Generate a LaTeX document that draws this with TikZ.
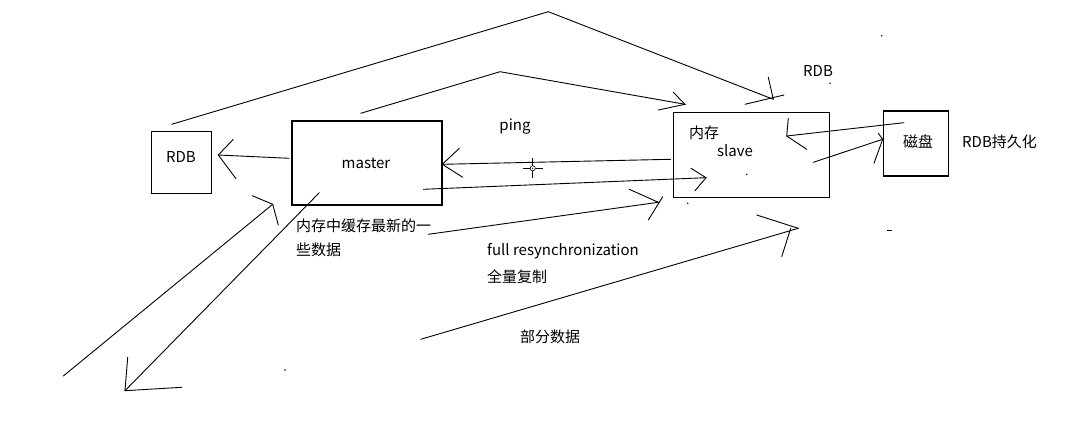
\documentclass[tikz,border=0pt]{standalone}
\usepackage{fontspec}
\setmainfont{Noto Sans CJK SC}
\usepackage{tikz}
\usetikzlibrary{positioning}

\tikzset{
  box/.style={draw, line width=1.1pt, inner sep=0pt},
  sketch/.style={line width=0.9pt, line cap=round},
  txt/.style={inner sep=0pt, font=\fontsize{15}{18}\selectfont},
}

\begin{document}
\begin{tikzpicture}[x=1pt, y=-1pt]
\useasboundingbox[fill=white] (0,0) rectangle (1079,442);

%%%%% Boxes %%%%%
\node[box, minimum width=60, minimum height=62] (rdbbox) at (181.5,162.5) {};
\node[box, minimum width=150, minimum height=84] (master) at (367,163) {};
\node[box, minimum width=156, minimum height=85] (slave) at (751.5,155) {};
\node[box, minimum width=65, minimum height=65] (disk) at (916,143.5) {};

%%%%% Texts %%%%%
\node[txt] (rdbtxt) at (181,157) {RDB};
\node[txt] (mastertxt) at (366,163) {master};
\node[txt, anchor=base] (ping) at (515,130) {ping};
\node[txt] (mem) at (704,133) {内存};
\node[txt, anchor=base] (slavetxt) at (735,156) {slave};
\node[txt] (disktxt) at (918,142) {磁盘};
\node[txt] (rdbtop) at (818,71) {RDB};
\node[txt, anchor=west] (persist) at (962,142) {RDB持久化};
\node[txt, anchor=west] (cache1) at (296,226) {内存中缓存最新的一};
\node[txt, anchor=west] (cache2) at (296,250) {些数据};
\node[txt, anchor=west] (fullsync) at (487,251) {full resynchronization};
\node[txt, anchor=west] (fullcopy) at (487,277) {全量复制};
\node[txt] (partial) at (550,337) {部分数据};

%%%%% Sketch points %%%%%
\coordinate (big-a) at (171.7,124.3);
\coordinate (big-top) at (548.3,11.7);
\coordinate (big-tip) at (773.3,99.3);
\coordinate (small-a) at (360.7,113.3);
\coordinate (small-top) at (500,71.7);
\coordinate (small-tip) at (685,104.3);
\coordinate (m2r-a) at (289,158.3);
\coordinate (m2r-tip) at (218.3,155);
\coordinate (ping-a) at (670.7,159.3);
\coordinate (ping-tip) at (442.3,164.3);
\coordinate (m2s-a) at (423.3,189.3);
\coordinate (m2s-tip) at (706,177.7);
\coordinate (full-a) at (428.3,234.3);
\coordinate (full-tip) at (658.3,202.3);
\coordinate (part-a) at (420.7,339.3);
\coordinate (part-tip) at (798.3,228.3);
\coordinate (s2d-a) at (813.3,162.3);
\coordinate (s2d-tip) at (882.7,139.3);
\coordinate (d2s-a) at (904,122.7);
\coordinate (d2s-tip) at (786.7,136);
\coordinate (up-a) at (63.3,376);
\coordinate (up-tip) at (272.7,204.3);
\coordinate (down-a) at (319.3,192.7);
\coordinate (down-tip) at (125,390.7);

%%%%% Connectors %%%%%
\draw[sketch] (big-a) -- (big-top) -- (big-tip);
\draw[sketch] (768.3,77.3) -- (big-tip) (745,104.3) -- (784,95);
\draw[sketch] (small-a) -- (small-top) -- (small-tip);
\draw[sketch] (673.3,92.3) -- (small-tip) -- (658.3,110);
\draw[sketch] (m2r-a) -- (m2r-tip);
\draw[sketch] (233.3,139.3) -- (m2r-tip) -- (236,178.7);
\draw[sketch] (ping-a) -- (ping-tip);
\draw[sketch] (459.3,148.3) -- (ping-tip) -- (462.7,177.3);
\draw[sketch] (m2s-a) -- (m2s-tip);
\draw[sketch] (691,168.3) -- (m2s-tip) -- (695,190.7);
\draw[sketch] (full-a) -- (full-tip);
\draw[sketch] (629.3,189.3) -- (full-tip) (662.7,196.7) -- (648.3,220);
\draw[sketch] (part-a) -- (part-tip);
\draw[sketch] (756.7,215) -- (part-tip) (790.7,228.3) -- (781.7,256.7);
\draw[sketch] (s2d-a) -- (s2d-tip);
\draw[sketch] (878.3,133.3) -- (s2d-tip) -- (874,163.3);
\draw[sketch] (d2s-a) -- (d2s-tip);
\draw[sketch] (788.3,118.3) -- (d2s-tip) -- (806.7,149.3);
\draw[sketch] (up-a) -- (up-tip);
\draw[sketch] (252.3,195.7) -- (up-tip) -- (278.3,225);
\draw[sketch] (down-a) -- (down-tip);
\draw[sketch] (127.7,357.3) -- (down-tip) -- (181.7,387.3);

%%%%% Cursor and stray marks %%%%%
\coordinate (cursor) at (532.7,168.3);
\draw[line width=0.8pt] ([yshift=-10]cursor) -- ([yshift=10]cursor) ([xshift=-10]cursor) -- ([xshift=10]cursor);
\draw[line width=0.6pt, fill=white] (cursor) circle (2.6);
\fill (cursor) circle (0.7);
\foreach \p in {(881.7,35.7),(830,83.3),(746.7,174.3),(687.7,203.3),(285,370)}{
\fill \p circle (0.8);
}
\draw[line width=0.9pt] (886.7,230) -- (891.7,230);
\end{tikzpicture}
\end{document}
